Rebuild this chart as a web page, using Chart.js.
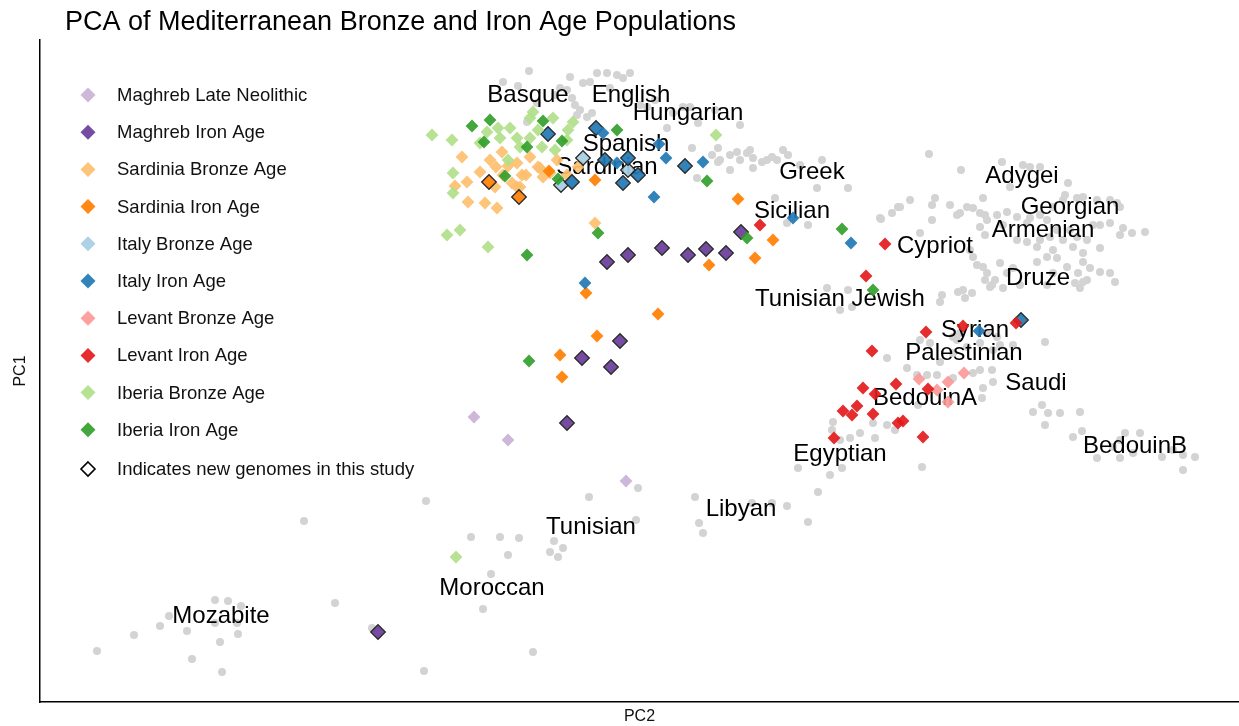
<!DOCTYPE html>
<html>
<head>
<meta charset="utf-8">
<title>PCA of Mediterranean Bronze and Iron Age Populations</title>
<script src="https://cdn.jsdelivr.net/npm/chart.js@4.4.1/dist/chart.umd.min.js"></script>
<style>
  html, body { margin: 0; padding: 0; background: #fff; }
  canvas { display: block; }
</style>
</head>
<body>
<canvas id="pca" width="1239" height="726"></canvas>
<script>
// values, in plot units (origin at the top-left corner of the panel, PC1 runs downward)
// [PC2, PC1, new genome flag]

// modern reference samples (grey)
const modernSamples = [
  [489,31],[463,42],[478,46],[530,37],[543,43],[550,42],[557,33],[567,33],[577,35],[583,38],[590,33],
  [532,58],[535,65],[540,70],[527,50],[537,75],[547,77],[552,73],[487,82],[497,63],[520,48],[515,55],[570,48],
  [600,65],[607,67],[615,60],[627,88],[633,73],[643,67],[650,67],[658,83],[700,85],[675,70],
  [652,108],[672,115],[678,108],[680,120],[690,115],[697,112],[700,120],[707,113],[710,110],[713,118],
  [722,122],[727,120],[732,117],[737,120],[743,110],[748,115],[760,125],[782,120],[678,122],[690,130],
  [713,128],[657,138],[777,148],[808,148],[735,158],[747,183],[768,185],[840,178],[852,173],[858,167],
  [889,114],[921,130],[962,122],[983,125],[990,127],[1000,127],[970,147],[1028,143],[1025,155],[1037,158],
  [1043,157],[1057,160],[1070,160],[1077,163],[870,160],[860,167],[841,179],[892,165],[910,165],[895,158],
  [892,180],[920,173],[933,168],[943,158],[940,173],[947,180],[957,175],[967,172],[940,187],[945,195],
  [880,193],[1070,183],[1083,188],[1092,193],[1105,192],[1080,195],[1060,185],[1047,200],[1060,208],[1043,213],
  [1033,207],[1023,200],[1013,210],[1017,218],[1007,217],[997,207],[987,202],[977,200],[1043,222],[1038,233],
  [1050,228],[1060,232],[1070,233],[1075,242],[1047,240],[1035,243],[1040,248],[997,222],[933,217],[937,225],
  [943,227],[947,233],[945,240],[950,247],[955,240],[963,248],[930,210],[902,255],[918,252],[925,258],
  [932,253],[900,262],[1017,190],[1030,190],[1010,197],[1037,197],[1007,180],[987,183],[1053,185],[1080,167],
  [1023,160],[1013,167],[1000,175],[990,178],[977,177],[980,245],[1007,245],[1013,233],[1043,242],[960,223],
  [967,233],[973,228],[1027,227],[923,250],[800,270],[808,250],[787,248],[812,267],[963,185],[945,175],
  [927,167],[917,175],[1000,200],[952,245],
  [847,318],[867,328],[877,335],[887,335],[897,335],[913,313],[927,307],[940,303],[953,310],[973,305],
  [917,300],[960,305],[940,330],[953,342],[943,348],[942,358],[933,333],[1005,302],[880,300],[890,303],
  [913,297],[920,293],[947,293],[957,297],[900,322],[913,338],[952,330],[878,365],[847,385],[833,383],
  [820,393],[810,398],[793,382],[792,390],[800,400],[835,398],[855,390],[758,428],[790,435],[778,452],
  [802,428],[882,427],[993,372],[1002,365],[1008,373],[1020,373],[1040,372],[1005,385],[1033,397],[1042,391],
  [1085,393],[1100,393],[1080,400],[1073,407],[1057,418],[1080,418],[1093,413],[1122,417],[1143,415],[1155,417],
  [1143,430],[1133,410],
  [386,461],[431,497],[460,497],[479,498],[468,515],[451,534],[443,569],[493,612],[384,631],[510,512],
  [514,501],[523,508],[518,517],[549,457],[598,448],[596,480],[655,457],[659,483],[663,493],[712,463],
  [732,463],[747,466],[768,482],[264,481],
  [57,611],[94,595],[120,586],[129,576],[147,591],[152,619],[175,560],[188,561],[201,566],[197,583],
  [198,594],[180,602],[182,632],[175,583],[295,563],[332,588]
];

const maghrebLateNeolithic = [[434,377],[468,400],[586,441]];
const maghrebIronAge = [
  [567,222,1],[588,215,1],[622,208,1],[648,215,1],[666,209,1],[686,213,1],[701,192,1],
  [580,301,1],[542,318,1],[571,327,1],[527,383,1],[338,592,1]
];
const sardiniaBronzeAge = [
  [422,117],[427,142],[415,146],[428,162],[445,163],[457,168],[450,120],[462,112],[456,127],[468,126],
  [477,123],[486,135],[490,117],[498,127],[472,143],[455,147],[477,147],[482,135],[503,137],[517,120],
  [527,135],[538,127],[500,128],[463,135],[555,183],[480,147],[440,132],[510,133]
];
const sardiniaIronAge = [
  [449,142,1],[479,157,1],[509,131],[555,140],[698,159],[733,200],[715,218],[669,225],[546,253],
  [618,274],[557,296],[520,315],[522,337]
];
const italyBronzeAge = [[543,118,1],[521,145,1],[588,130,1]];
const italyIronAge = [
  [556,88,1],[563,93],[508,94,1],[532,142,1],[565,120,1],[577,123],[588,118,1],[583,143,1],[598,135,1],
  [619,104],[626,118],[645,126,1],[663,122],[614,157],[753,178],[811,203],[545,243],[939,291],[981,280,1]
];
const levantBronzeAge = [[879,339],[908,342],[924,333],[897,350],[908,362]];
const levantIronAge = [
  [720,185],[845,204],[826,236],[886,292],[923,286],[976,283],[832,311],[823,348],[856,344],[888,349],
  [835,354],[803,371],[812,375],[817,366],[833,374],[858,383],[863,381],[883,397],[794,398]
];
const iberiaBronzeAge = [
  [392,95],[412,100],[447,92],[458,88],[470,88],[493,72],[490,78],[513,78],[533,82],[528,90],
  [440,103],[460,98],[477,98],[490,98],[480,107],[498,90],[502,107],[527,100],[515,110],[413,133],
  [413,153],[468,120],[407,195],[420,190],[448,207],[676,95],[416,517]
];
const iberiaIronAge = [
  [432,86],[450,80],[444,102],[487,107],[503,81],[522,101],[465,136],[518,139],[558,193],[487,215],
  [577,90],[667,141],[707,198],[802,189],[833,250],[489,321]
];

const groupNames = [
  'Maghreb Late Neolithic', 'Maghreb Iron Age', 'Sardinia Bronze Age', 'Sardinia Iron Age',
  'Italy Bronze Age', 'Italy Iron Age', 'Levant Bronze Age', 'Levant Iron Age',
  'Iberia Bronze Age', 'Iberia Iron Age'
];
const groupData = [
  maghrebLateNeolithic, maghrebIronAge, sardiniaBronzeAge, sardiniaIronAge,
  italyBronzeAge, italyIronAge, levantBronzeAge, levantIronAge,
  iberiaBronzeAge, iberiaIronAge
];
const groupColors = [
  '#cab2d6', '#6a3d9a', '#fdbf6f', '#ff7f00', '#a6cee3',
  '#1f78b4', '#fb9a99', '#e31a1c', '#b2df8a', '#33a02c'
];

// population labels placed on the modern cloud
const popLabels = [
  ['Basque',488,55],['English',591,55],['Hungarian',648,73],['Spanish',586,104],['Sardinian',567,127],
  ['Greek',772,132],['Sicilian',752,171],['Adygei',982,136],['Georgian',1030,167],['Armenian',1003,190],
  ['Cypriot',895,206],['Druze',998,238],['Tunisian Jewish',800,259],['Syrian',935,290],['Palestinian',924,313],
  ['Saudi',996,343],['BedouinA',885,358],['Egyptian',800,414],['BedouinB',1095,406],['Libyan',701,469],
  ['Tunisian',551,487],['Moroccan',452,548],['Mozabite',181,576]
];

const FONT = '"Liberation Sans", Arial, Helvetica, sans-serif';
Chart.defaults.font.family = FONT;

function fade(hex, a) {
  const r = parseInt(hex.slice(1, 3), 16), g = parseInt(hex.slice(3, 5), 16), b = parseInt(hex.slice(5, 7), 16);
  return `rgba(${r},${g},${b},${a})`;
}

const isNew = ctx => !!(ctx.raw && ctx.raw.n);

const datasets = groupData.map((pts, i) => ({
  label: groupNames[i],
  data: pts.map(p => ({ x: p[0], y: p[1], n: p[2] === 1 })),
  pointStyle: 'rectRot',
  pointBackgroundColor: fade(groupColors[i], 0.92),
  pointRadius: ctx => isNew(ctx) ? 7.3 : 6.4,
  pointBorderWidth: ctx => isNew(ctx) ? 1.3 : 0,
  pointBorderColor: ctx => isNew(ctx) ? '#2a2a2a' : 'rgba(0,0,0,0)',
  order: 20 - i
}));

datasets.push({
  label: 'reference',
  isReference: true,
  data: modernSamples.map(p => ({ x: p[0], y: p[1] })),
  pointStyle: 'circle',
  pointBackgroundColor: '#d3d3d3',
  pointBorderWidth: 0,
  pointRadius: 4,
  order: 100
});

// labels go on top of the grey cloud but under the ancient samples
const labelPlugin = {
  id: 'popLabels',
  afterDatasetDraw(chart, args) {
    if (!chart.data.datasets[args.index].isReference) return;
    const { ctx, scales } = chart;
    ctx.save();
    ctx.font = '24px ' + FONT;
    ctx.fillStyle = '#000';
    ctx.textAlign = 'center';
    ctx.textBaseline = 'middle';
    popLabels.forEach(l => {
      ctx.fillText(l[0], scales.x.getPixelForValue(l[1]), scales.y.getPixelForValue(l[2]));
    });
    ctx.restore();
  }
};

function diamond(ctx, x, y, r) {
  ctx.beginPath();
  ctx.moveTo(x, y - r);
  ctx.lineTo(x + r, y);
  ctx.lineTo(x, y + r);
  ctx.lineTo(x - r, y);
  ctx.closePath();
}

const legendTitlePlugin = {
  id: 'legendTitle',
  afterDraw(chart) {
    const { ctx, chartArea } = chart;
    ctx.save();
    ctx.fillStyle = '#000';
    ctx.font = '27px ' + FONT;
    ctx.textAlign = 'left';
    ctx.textBaseline = 'middle';
    ctx.fillText('PCA of Mediterranean Bronze and Iron Age Populations', 65, 23);

    ctx.font = '18.5px ' + FONT;
    const mx = chartArea.left + 48, tx = chartArea.left + 77;
    groupNames.forEach((name, i) => {
      const y = chartArea.top + 55 + i * 37.2;
      ctx.fillStyle = fade(groupColors[i], 0.92);
      diamond(ctx, mx, y, 7.5);
      ctx.fill();
      ctx.fillStyle = '#111';
      ctx.fillText(name, tx, y + 1);
    });
    const y = chartArea.top + 55 + 10 * 37.2 + 2;
    diamond(ctx, mx, y, 7);
    ctx.fillStyle = '#fff';
    ctx.fill();
    ctx.lineWidth = 1.6;
    ctx.strokeStyle = '#000';
    ctx.stroke();
    ctx.fillStyle = '#111';
    ctx.fillText('Indicates new genomes in this study', tx, y + 1);
    ctx.restore();
  }
};

new Chart(document.getElementById('pca'), {
  type: 'scatter',
  data: { datasets },
  options: {
    responsive: false,
    animation: false,
    events: [],
    layout: { autoPadding: false, padding: { top: 40, right: 0, left: 0, bottom: 0 } },
    plugins: {
      legend: { display: false },
      tooltip: { enabled: false },
      title: { display: false }
    },
    scales: {
      x: {
        type: 'linear',
        min: 0,
        max: 1199,
        grid: { display: false },
        ticks: { display: false },
        border: { display: true, color: '#000', width: 1.5 },
        title: { display: true, text: 'PC2', color: '#111', font: { size: 16 }, padding: { top: 0, bottom: 0 } },
        afterFit: s => { s.height = 24; }
      },
      y: {
        type: 'linear',
        reverse: true,
        min: 0,
        max: 662,
        grid: { display: false },
        ticks: { display: false },
        border: { display: true, color: '#000', width: 1.5 },
        title: { display: true, text: 'PC1', color: '#111', font: { size: 16 }, padding: { top: 11, bottom: 0 } },
        afterFit: s => { s.width = 40; }
      }
    }
  },
  plugins: [labelPlugin, legendTitlePlugin]
});
</script>
</body>
</html>
